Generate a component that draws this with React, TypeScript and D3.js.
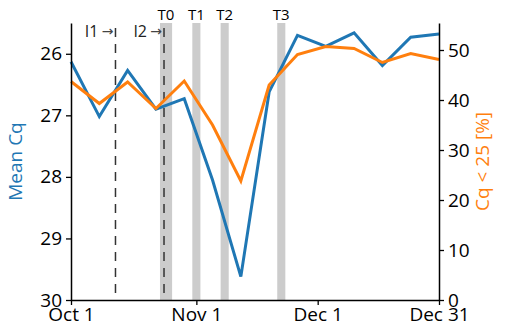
import { useEffect, useRef } from 'react';
import * as d3 from 'd3';

// weekly samples
const dates = [
  '2020-10-01', '2020-10-08', '2020-10-15', '2020-10-22', '2020-10-29', '2020-11-05', '2020-11-12',
  '2020-11-19', '2020-11-26', '2020-12-03', '2020-12-10', '2020-12-17', '2020-12-24', '2020-12-31',
];
const meanCq = [26.13, 27.02, 26.27, 26.9, 26.73, 28.05, 29.62, 26.62, 25.7, 25.88, 25.66, 26.19, 25.73, 25.68];
const pctBelow25 = [43.7, 39.3, 43.6, 38.3, 43.8, 35.0, 23.8, 43.0, 49.1, 50.7, 50.3, 47.5, 49.3, 48.1];

const interventions = [
  { label: 'I1', date: '2020-10-12' },
  { label: 'I2', date: '2020-10-24' },
];
const treatments = [
  { label: 'T0', start: '2020-10-23', end: '2020-10-26' },
  { label: 'T1', start: '2020-10-31', end: '2020-11-02' },
  { label: 'T2', start: '2020-11-07', end: '2020-11-09' },
  { label: 'T3', start: '2020-11-21', end: '2020-11-23' },
];
const xTicks = ['2020-10-01', '2020-11-01', '2020-12-01', '2020-12-31'];
const leftTicks = [26, 27, 28, 29, 30];
const rightTicks = [0, 10, 20, 30, 40, 50];

const parse = d3.timeParse('%Y-%m-%d');

export default function App() {
  const svgRef = useRef<SVGSVGElement>(null);

  useEffect(() => {
    const width = 506;
    const height = 330;
    const left = 71, right = 439, top = 23, bottom = 300;
    const font = '"Open Sans", "Noto Sans", sans-serif';

    const svg = d3.select(svgRef.current);
    svg.selectAll('*').remove();
    svg.attr('width', width).attr('height', height).style('font-family', font);

    const x = d3.scaleTime()
      .domain([parse('2020-10-01')!, parse('2020-12-31')!])
      .range([left, right]);
    const yL = d3.scaleLinear().domain([30, 25.5]).range([bottom, top]);
    const yR = d3.scaleLinear().domain([0, 55.4]).range([bottom, top]);

    const ds = dates.map(d => parse(d)!);

    // treatment bands
    svg.append('g')
      .selectAll('rect')
      .data(treatments)
      .enter()
      .append('rect')
      .attr('x', d => x(parse(d.start)!))
      .attr('width', d => x(parse(d.end)!) - x(parse(d.start)!))
      .attr('y', top)
      .attr('height', bottom - top)
      .attr('fill', '#cccccc');

    svg.append('g')
      .selectAll('text')
      .data(treatments)
      .enter()
      .append('text')
      .attr('x', d => (x(parse(d.start)!) + x(parse(d.end)!)) / 2)
      .attr('y', 20)
      .attr('text-anchor', 'middle')
      .attr('font-family', font)
      .attr('font-size', 15)
      .text(d => d.label);

    // intervention lines
    svg.append('g')
      .selectAll('line')
      .data(interventions)
      .enter()
      .append('line')
      .attr('x1', d => x(parse(d.date)!))
      .attr('x2', d => x(parse(d.date)!))
      .attr('y1', 28)
      .attr('y2', bottom)
      .attr('stroke', '#333')
      .attr('stroke-width', 1.5)
      .attr('stroke-dasharray', '9,7');

    svg.append('g')
      .selectAll('text')
      .data(interventions)
      .enter()
      .append('text')
      .attr('x', d => x(parse(d.date)!) - 17)
      .attr('y', 37)
      .attr('text-anchor', 'end')
      .attr('font-family', font)
      .attr('font-size', 16)
      .attr('fill', '#222')
      .text(d => d.label);

    svg.append('g')
      .selectAll('text')
      .data(interventions)
      .enter()
      .append('text')
      .attr('x', d => x(parse(d.date)!) - 2)
      .attr('y', 36)
      .attr('text-anchor', 'end')
      .attr('font-family', '"DejaVu Sans", sans-serif')
      .attr('font-size', 14)
      .attr('fill', '#444')
      .text('→');

    const lineL = d3.line<number>().x((_, i) => x(ds[i])).y(d => yL(d));
    const lineR = d3.line<number>().x((_, i) => x(ds[i])).y(d => yR(d));

    svg.append('path')
      .attr('d', lineL(meanCq))
      .attr('fill', 'none')
      .attr('stroke', '#1f77b4')
      .attr('stroke-width', 3);

    svg.append('path')
      .attr('d', lineR(pctBelow25))
      .attr('fill', 'none')
      .attr('stroke', '#ff7f0e')
      .attr('stroke-width', 3);

    // axes
    const styleAxis = (g: any) => {
      g.selectAll('.domain').attr('stroke', '#000').attr('stroke-width', 1.5);
      g.selectAll('.tick line').attr('stroke', '#000').attr('stroke-width', 1.3);
      g.selectAll('.tick text').attr('font-size', 19).attr('font-family', font).attr('fill', '#000');
    };

    svg.append('g')
      .attr('transform', `translate(0,${bottom})`)
      .call(d3.axisBottom(x)
        .tickValues(xTicks.map(d => parse(d)!))
        .tickFormat(d => d3.timeFormat('%b %-d')(d as Date))
        .tickSize(5)
        .tickSizeOuter(0)
        .tickPadding(3))
      .call(styleAxis);

    svg.append('g')
      .attr('transform', `translate(${left},0)`)
      .call(d3.axisLeft(yL).tickValues(leftTicks).tickFormat(d3.format('d')).tickSize(5).tickSizeOuter(0).tickPadding(4))
      .call(styleAxis);

    svg.append('g')
      .attr('transform', `translate(${right},0)`)
      .call(d3.axisRight(yR).tickValues(rightTicks).tickFormat(d3.format('d')).tickSize(5).tickSizeOuter(0).tickPadding(4))
      .call(styleAxis);

    svg.append('text')
      .attr('transform', `translate(22,${(top + bottom) / 2}) rotate(-90)`)
      .attr('text-anchor', 'middle')
      .attr('font-size', 19)
      .attr('fill', '#1f77b4')
      .text('Mean Cq');

    svg.append('text')
      .attr('transform', `translate(489,${(top + bottom) / 2}) rotate(-90)`)
      .attr('text-anchor', 'middle')
      .attr('font-size', 19)
      .attr('fill', '#ff7f0e')
      .text('Cq < 25 [%]');
  }, []);

  return (
    <div style={{ position: 'absolute', left: 0, top: 0 }}>
      <svg ref={svgRef}></svg>
    </div>
  );
}
